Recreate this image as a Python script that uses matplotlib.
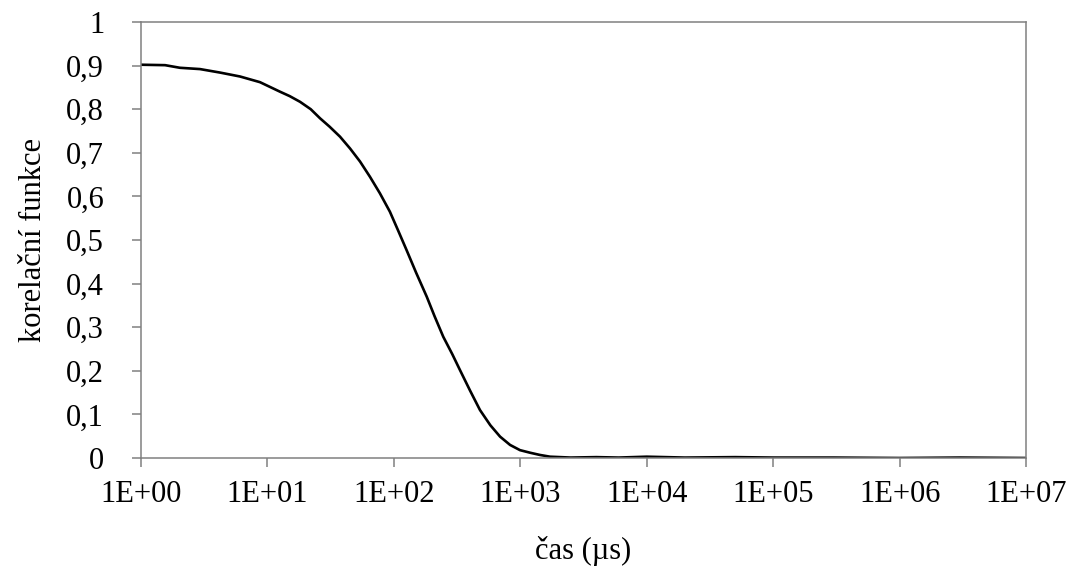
import math
import matplotlib
matplotlib.use('Agg')
import matplotlib.pyplot as plt
from matplotlib.ticker import FixedLocator, FuncFormatter, NullLocator

# measured correlation function (time in microseconds)
time_us = [1.0, 1.55, 2.03, 2.93, 4.22, 6.07, 8.73, 12.6, 15.0, 18.1, 22.0, 26.1,
           31.0, 37.5, 45.0, 54.0, 64.7, 77.6, 93.0, 108.0, 126.0, 150.0, 182.0,
           210.0, 246.0, 290.0, 333.0, 400.0, 480.0, 580.0, 692.0, 830.0, 995.0,
           1200.0, 1430.0, 1720.0, 2500.0, 4000.0, 6000.0, 1.0e4, 2.0e4, 5.0e4,
           1.0e5, 3.0e5, 1.0e6, 3.0e6, 1.0e7]
corr = [0.902, 0.901, 0.895, 0.892, 0.884, 0.875, 0.862, 0.840, 0.830, 0.817,
        0.800, 0.779, 0.760, 0.737, 0.710, 0.680, 0.645, 0.607, 0.565, 0.522,
        0.477, 0.425, 0.370, 0.325, 0.278, 0.238, 0.202, 0.155, 0.110, 0.075,
        0.049, 0.030, 0.018, 0.012, 0.007, 0.003, 0.001, 0.002, 0.001, 0.003,
        0.001, 0.002, 0.001, 0.001, 0.000, 0.001, 0.000]

x_ticks = [1e0, 1e1, 1e2, 1e3, 1e4, 1e5, 1e6, 1e7]
y_ticks = [0.0, 0.1, 0.2, 0.3, 0.4, 0.5, 0.6, 0.7, 0.8, 0.9, 1.0]

FONT = 'Liberation Serif'
FS = 22
GRAY = '#808080'


def y_fmt(v, pos):
    s = '{0:.1f}'.format(v).rstrip('0').rstrip('.')
    return s.replace('.', ',')


def x_fmt(v, pos):
    return '1E+{0:02d}'.format(int(round(math.log10(v))))


plt.rcParams['font.family'] = [FONT, 'DejaVu Serif']

fig = plt.figure(figsize=(10.76, 5.72), dpi=100)
ax = fig.add_axes([141 / 1076, 1 - 458 / 572, (1026 - 141) / 1076, (458 - 22) / 572])

ax.plot(time_us, corr, color='black', linewidth=1.9)

ax.set_xscale('log')
ax.set_xlim(1, 1e7)
ax.set_ylim(0, 1)
ax.xaxis.set_major_locator(FixedLocator(x_ticks))
ax.xaxis.set_minor_locator(NullLocator())
ax.xaxis.set_major_formatter(FuncFormatter(x_fmt))
ax.yaxis.set_major_locator(FixedLocator(y_ticks))
ax.yaxis.set_major_formatter(FuncFormatter(y_fmt))

for sp in ax.spines.values():
    sp.set_color(GRAY)
    sp.set_linewidth(1.1)

ax.tick_params(axis='both', colors=GRAY, labelcolor='black', labelsize=FS,
               length=6.5, width=1.1, direction='out')
ax.tick_params(axis='y', pad=20)
ax.tick_params(axis='x', pad=9)

ax.set_xlabel('čas (µs)', fontsize=FS, labelpad=20)
ax.set_ylabel('korelační funkce', fontsize=FS, labelpad=13)

fig.savefig('out.png', dpi=100)
